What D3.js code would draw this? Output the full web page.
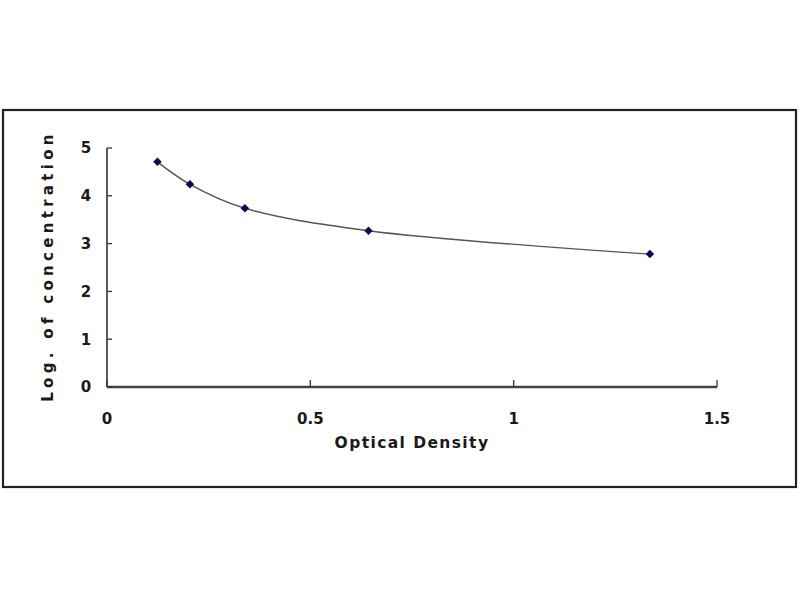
<!DOCTYPE html>
<html><head><meta charset="utf-8">
<script src="https://cdn.jsdelivr.net/npm/d3@7"></script>
<style>
html,body{margin:0;padding:0;background:#fff;}
svg text{font-family:"DejaVu Sans",sans-serif;font-weight:bold;fill:#1a1a1a;}
</style></head>
<body><svg id="c" width="800" height="600"></svg>
<script>
const odValues = [0.124, 0.204, 0.339, 0.643, 1.335];
const logConc = [4.71, 4.24, 3.74, 3.27, 2.78];
const xTicks = [0, 0.5, 1, 1.5];
const yTicks = [0, 1, 2, 3, 4, 5];
const xTitle = "Optical Density";
const yTitle = "Log. of concentration";

const svg = d3.select("#c");
svg.append("rect").attr("x",3).attr("y",110).attr("width",793).attr("height",377)
  .attr("fill","#fff").attr("stroke","#222").attr("stroke-width",2.2);

const x = d3.scaleLinear().domain([0,1.5]).range([107,717]);
const y = d3.scaleLinear().domain([0,5]).range([387,148]);

const axisColor = "#333";
svg.append("line").attr("x1",x(0)).attr("x2",x(0)).attr("y1",y(5)).attr("y2",y(0))
  .attr("stroke",axisColor).attr("stroke-width",1.6);
svg.append("line").attr("x1",x(0)).attr("x2",x(1.5)).attr("y1",y(0)).attr("y2",y(0))
  .attr("stroke","#444").attr("stroke-width",2.6);

const yAxis = svg.append("g");
yTicks.forEach(t=>{
  yAxis.append("line").attr("x1",x(0)).attr("x2",x(0)+5).attr("y1",y(t)).attr("y2",y(t))
    .attr("stroke",axisColor).attr("stroke-width",1.3);
  yAxis.append("text").attr("x",x(0)-21).attr("y",y(t)).attr("dy","0.36em")
    .attr("text-anchor","middle").attr("font-size",15).text(t);
});
const xAxis = svg.append("g");
xTicks.forEach(t=>{
  xAxis.append("line").attr("x1",x(t)).attr("x2",x(t)).attr("y1",y(0)).attr("y2",y(0)-7)
    .attr("stroke",axisColor).attr("stroke-width",1.3);
  xAxis.append("text").attr("x",x(t)).attr("y",424)
    .attr("text-anchor","middle").attr("font-size",15).text(t);
});

svg.append("text").attr("x",412).attr("y",448).attr("text-anchor","middle")
  .attr("font-size",15.5).attr("letter-spacing","1.4px").text(xTitle);
svg.append("text").attr("transform","translate(53,266) rotate(-90)").attr("text-anchor","middle")
  .attr("font-size",15).attr("letter-spacing","4.3px").text(yTitle);

const pts = odValues.map((v,i)=>[v, logConc[i]]);
const line = d3.line().x(d=>x(d[0])).y(d=>y(d[1])).curve(d3.curveCatmullRom.alpha(0.5));
svg.append("path").datum(pts).attr("d",line).attr("fill","none")
  .attr("stroke","#555").attr("stroke-width",1.4);

svg.selectAll("path.m").data(pts).enter().append("path").attr("class","m")
  .attr("transform",d=>`translate(${x(d[0])},${y(d[1])}) rotate(45)`)
  .attr("d",d3.symbol().type(d3.symbolSquare).size(36))
  .attr("fill","#0a0a50");
</script></body></html>
